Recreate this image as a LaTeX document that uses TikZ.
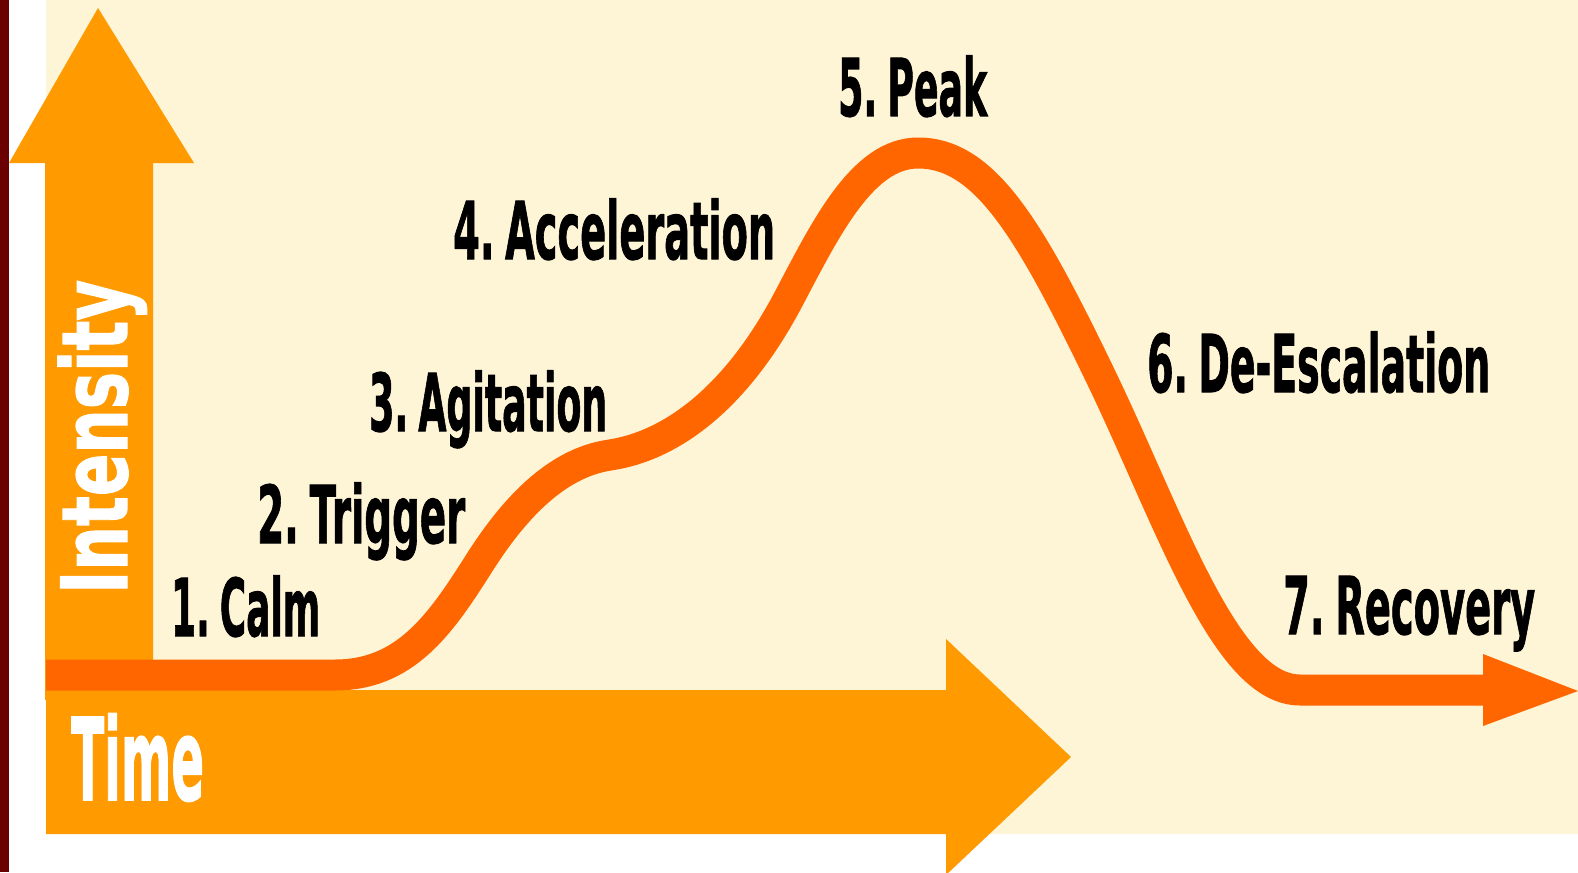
\documentclass[tikz,border=0pt]{standalone}
\usepackage{fontspec}
\usepackage{graphicx}
\newfontfamily\hvy{DejaVu Sans Bold}[FakeBold=1.5]
\newcommand\squeeze[3]{\resizebox{#1}{\height}{\fontsize{#2}{#2}\selectfont\hvy #3}}
\newcommand\gap{\hspace{0.28em}}
\definecolor{cream}{HTML}{FEF4D6}
\definecolor{axisorange}{HTML}{FF9A00}
\definecolor{curveorange}{HTML}{FF6600}
\definecolor{darkstrip}{HTML}{6A0000}
\tikzset{
  lbl/.style={inner sep=0pt, anchor=base west, text=black},
  axislbl/.style={inner sep=0pt, anchor=base west, text=white},
  axisshape/.style={fill=axisorange, draw=none},
  curve/.style={draw=curveorange, line width=31pt, line join=round}
}
\begin{document}
\begin{tikzpicture}[x=1pt, y=-1pt]
\useasboundingbox (0,0) rectangle (1578,872);
% background
\fill[white] (0,0) rectangle (1578,872);
\fill[cream] (46,0) rectangle (1578,834);
\fill[darkstrip] (0,0) rectangle (9,872);
% vertical axis arrow
\path[axisshape] (45,700) -- (45,163) -- (9,163) -- (98,8) -- (194,163) -- (153,163) -- (153,700) -- cycle;
% horizontal axis arrow
\path[axisshape] (46,690) -- (946,690) -- (946,639) -- (1071,757) -- (946,875) -- (946,834) -- (46,834) -- cycle;
% curve
\coordinate (c0) at (46,675);
\coordinate (c1) at (335,675);
\coordinate (c2) at (478,565);
\coordinate (c3) at (610,455);
\coordinate (c4) at (788,300);
\coordinate (peak) at (918,153);
\coordinate (c6) at (1100,375);
\coordinate (c7) at (1300,690);
\coordinate (cend) at (1490,690);
\draw[curve] (c0) -- (c1)
  .. controls (405,675) and (440,625) .. (c2)
  .. controls (512,511) and (555,463) .. (c3)
  .. controls (670,446) and (735,400) .. (c4)
  .. controls (825,230) and (862,153) .. (peak)
  .. controls (985,153) and (1030,230) .. (c6)
  .. controls (1170,520) and (1225,690) .. (c7)
  -- (cend);
\fill[curveorange] (1483,654) -- (1578,691) -- (1483,726) -- cycle;
% labels
\node[lbl] (calm) at (171,636) {\squeeze{149pt}{79.6pt}{1.\gap Calm}};
\node[lbl] (trigger) at (257,543) {\squeeze{208pt}{79.6pt}{2.\gap Trigger}};
\node[lbl] (agitation) at (369,431) {\squeeze{238pt}{79.6pt}{3.\gap Agitation}};
\node[lbl] (accel) at (453,259) {\squeeze{322pt}{79.6pt}{4.\gap Acceleration}};
\node[lbl] (peaklbl) at (838,116) {\squeeze{149pt}{79.6pt}{5.\gap Peak}};
\node[lbl] (deesc) at (1147,392) {\squeeze{343pt}{79.6pt}{6.\gap De-Escalation}};
\node[lbl] (recovery) at (1283,634) {\squeeze{252pt}{79.6pt}{7.\gap Recovery}};
\node[axislbl] (time) at (71,800) {\squeeze{133pt}{114pt}{Time}};
\node[axislbl, rotate=90] (intensity) at (127,594) {\squeeze{314pt}{91pt}{Intensity}};
\end{tikzpicture}
\end{document}
